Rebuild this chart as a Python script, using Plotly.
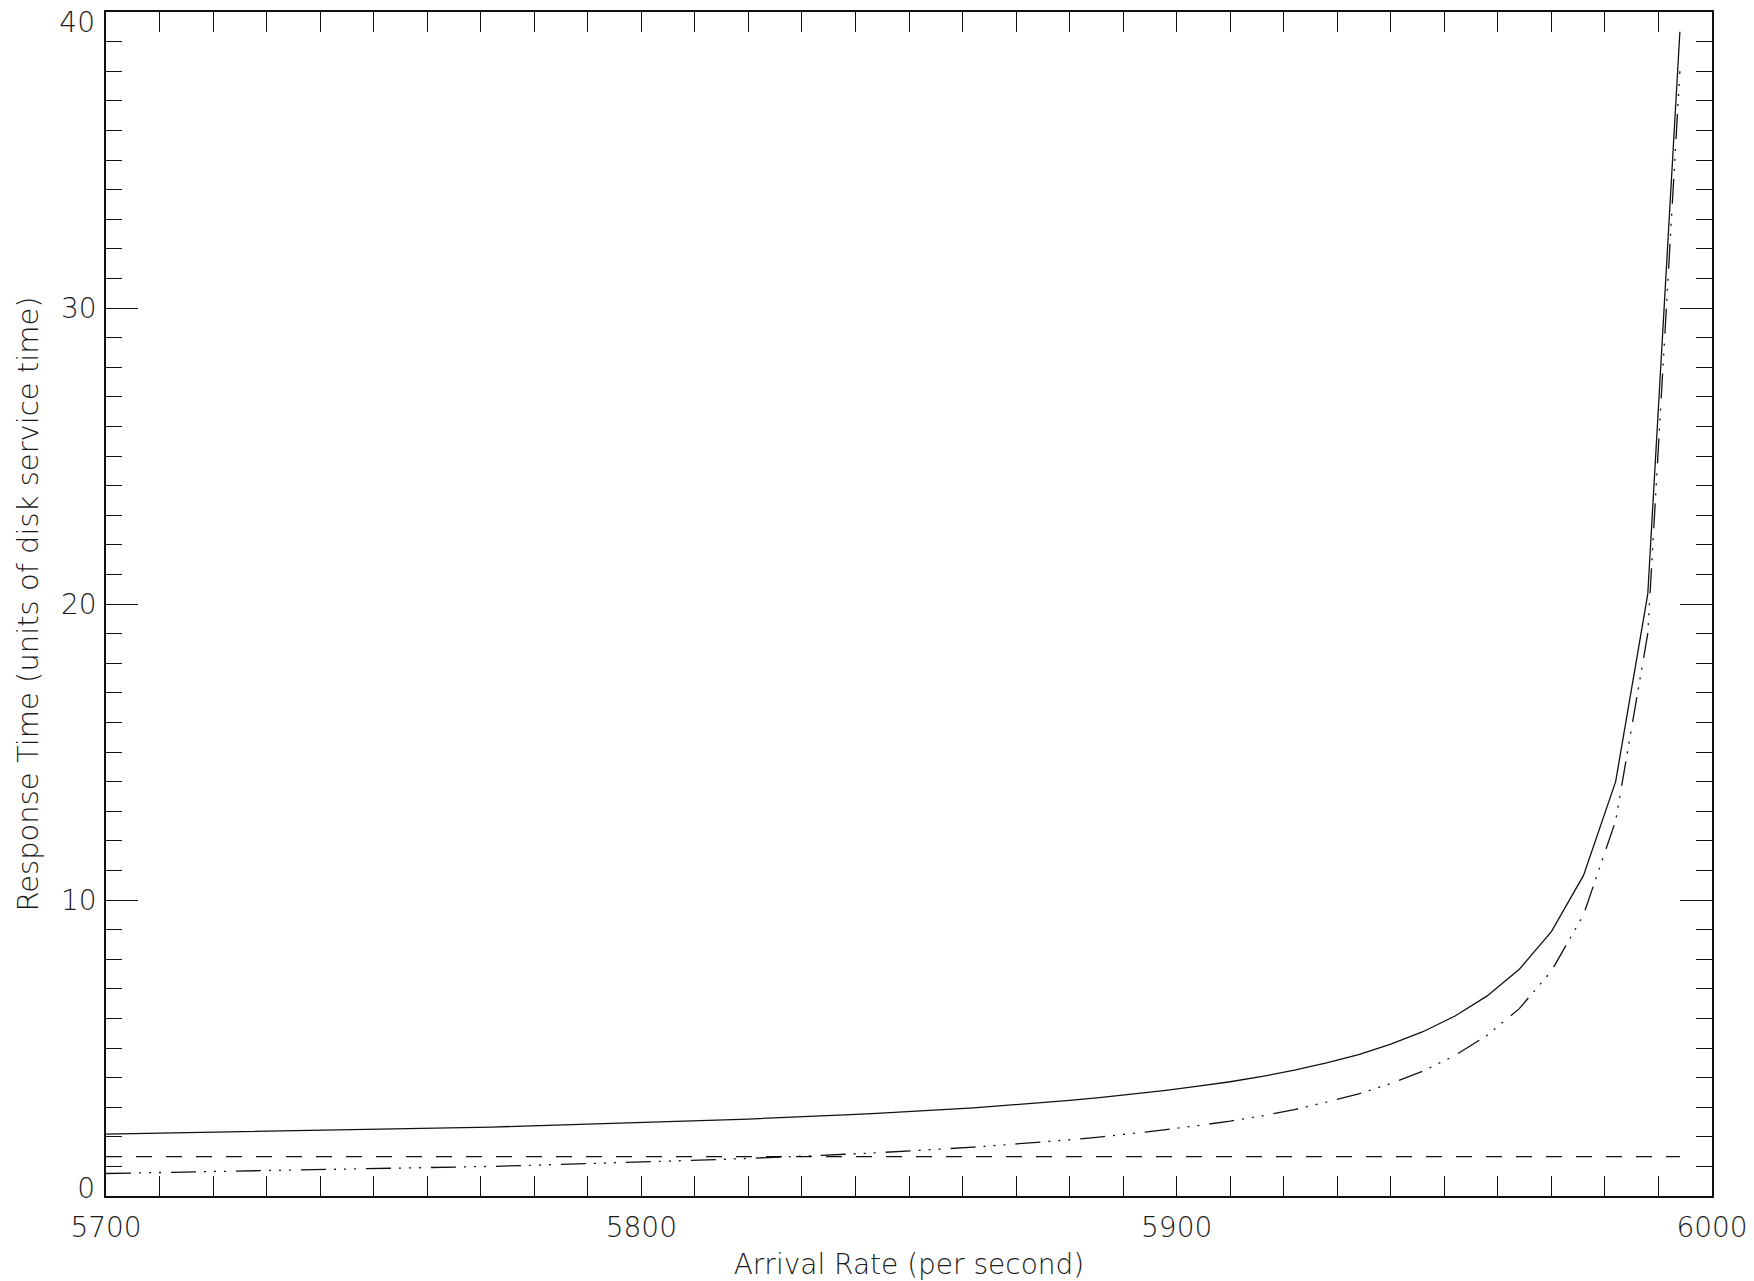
import plotly.graph_objects as go

# Arrival rates (per second)
arrival_rate = [5700, 5706, 5712, 5718, 5724, 5730, 5736, 5742, 5748, 5754,
                5760, 5766, 5772, 5778, 5784, 5790, 5796, 5802, 5808, 5814,
                5820, 5826, 5832, 5838, 5844, 5850, 5856, 5862, 5868, 5874,
                5880, 5886, 5892, 5898, 5904, 5910, 5916, 5922, 5928, 5934,
                5940, 5946, 5952, 5958, 5964, 5970, 5976, 5982, 5988, 5994]

# Total response time (solid)
total_time = [2.09, 2.11, 2.12, 2.14, 2.16, 2.17, 2.19, 2.21, 2.23, 2.26,
              2.28, 2.30, 2.33, 2.36, 2.39, 2.42, 2.45, 2.48, 2.52, 2.56,
              2.60, 2.64, 2.69, 2.74, 2.79, 2.85, 2.91, 2.98, 3.06, 3.14,
              3.23, 3.33, 3.44, 3.57, 3.71, 3.86, 4.04, 4.25, 4.50, 4.78,
              5.13, 5.55, 6.08, 6.76, 7.66, 8.93, 10.83, 14.00, 20.33, 39.33]

# Constant component (dashed)
service_time = [1.33] * 50

# Queueing component (dash-dot-dot-dot)
queue_time = [0.76, 0.78, 0.79, 0.81, 0.83, 0.84, 0.86, 0.88, 0.90, 0.93,
              0.95, 0.97, 1.00, 1.03, 1.06, 1.09, 1.12, 1.15, 1.19, 1.23,
              1.27, 1.31, 1.36, 1.41, 1.46, 1.52, 1.58, 1.65, 1.73, 1.81,
              1.90, 2.00, 2.11, 2.24, 2.38, 2.53, 2.71, 2.92, 3.17, 3.45,
              3.80, 4.22, 4.75, 5.43, 6.33, 7.60, 9.50, 12.67, 19.00, 38.00]

x_ticks = [5700, 5800, 5900, 6000]
y_ticks = [0, 10, 20, 30, 40]
y_ticks_mid = [10, 20, 30]
y_tick_top = [40]
y_tick_bottom = [0]

FONT = "DejaVu Sans"
INK = "#111111"
TXT = "#1a1a1a"
TICKFONT = dict(family=FONT, size=28, color=TXT, weight=200)

fig = go.Figure()
fig.add_trace(go.Scatter(x=arrival_rate, y=total_time, mode="lines",
                         line=dict(color=INK, width=1.3), showlegend=False))
fig.add_trace(go.Scatter(x=arrival_rate, y=service_time, mode="lines",
                         line=dict(color=INK, width=1.3, dash="16px,14px"),
                         showlegend=False))
fig.add_trace(go.Scatter(x=arrival_rate, y=queue_time, mode="lines",
                         line=dict(color=INK, width=1.3,
                                   dash="25px,8px,2px,8px,2px,8px,2px,10px"),
                         showlegend=False))
# empty carriers so the label-only axes are drawn
for ya in ("y2", "y3"):
    fig.add_trace(go.Scatter(x=[], y=[], yaxis=ya, mode="lines",
                             showlegend=False, hoverinfo="skip"))

axis_common = dict(showline=True, linecolor=INK, linewidth=1.5,
                   mirror="allticks", ticks="inside", tickcolor=INK,
                   tickwidth=1.3, showgrid=False, zeroline=False,
                   automargin=False, ticklabeloverflow="allow",
                   tickfont=TICKFONT)

fig.update_xaxes(range=[5700, 6000], tickvals=x_ticks,
                 ticktext=[str(v) for v in x_ticks], ticklen=20,
                 minor=dict(dtick=10, ticks="inside", ticklen=11,
                            tickcolor=INK, tickwidth=1.3, showgrid=False),
                 ticklabelstandoff=6,
                 title=dict(text="Arrival Rate (per second)", standoff=14,
                            font=dict(family=FONT, size=28, color=TXT, weight=200)),
                 **axis_common)

# main y axis: all major ticks drawn, labels only for the middle ones
fig.update_layout(yaxis=dict(
    range=[0, 40], tickvals=y_ticks,
    ticktext=["" if v not in y_ticks_mid else str(v) for v in y_ticks],
    ticklen=32,
    minor=dict(dtick=1, ticks="inside", ticklen=16,
               tickcolor=INK, tickwidth=1.3, showgrid=False),
    ticklabelstandoff=2,
    title=dict(text="Response Time (units of disk service time)", standoff=14,
               font=dict(family=FONT, size=29, color=TXT, weight=200)),
    **axis_common))

# end labels nudged inward like the original plotting package does
label_axis = dict(overlaying="y", anchor="x", side="left", range=[0, 40],
                  showline=False, ticks="", showgrid=False, zeroline=False,
                  automargin=False, ticklabeloverflow="allow",
                  ticklabelstandoff=10, tickfont=TICKFONT)
fig.update_layout(
    yaxis2=dict(tickvals=y_tick_top, ticktext=[str(v) for v in y_tick_top],
                ticklabelshift=10, **label_axis),
    yaxis3=dict(tickvals=y_tick_bottom, ticktext=[str(v) for v in y_tick_bottom],
                ticklabelshift=-8, **label_axis),
)

fig.update_layout(width=1754, height=1281,
                  margin=dict(l=106, r=42, t=12, b=85),
                  paper_bgcolor="white", plot_bgcolor="white")

fig.write_html("out.html", config={"displayModeBar": False},
               post_script="document.body.style.margin='0px';")
